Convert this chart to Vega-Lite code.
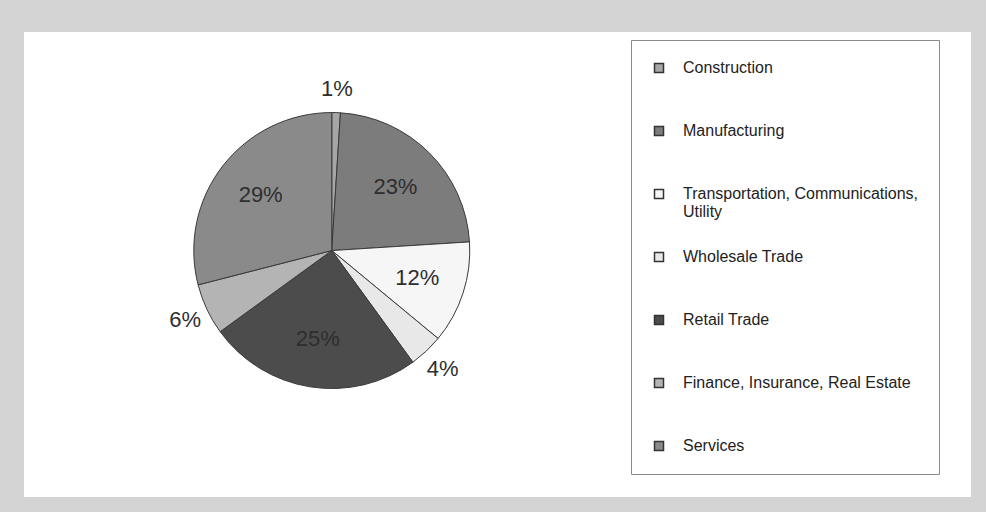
{
  "$schema": "https://vega.github.io/schema/vega-lite/v6.json",
  "width": 947,
  "height": 465,
  "autosize": {"type": "none"},
  "padding": {"left": 24, "top": 32, "right": 15, "bottom": 15},
  "background": "#d4d4d4",
  "view": {"fill": "#ffffff", "stroke": "#ffffff", "strokeWidth": 0},
  "config": {
    "font": "Liberation Sans",
    "legend": {
      "orient": "none",
      "legendX": 607,
      "legendY": 8,
      "padding": 20,
      "strokeColor": "#8a8a8a",
      "fillColor": "white",
      "symbolType": "square",
      "symbolSize": 81,
      "symbolStrokeColor": "#333333",
      "symbolStrokeWidth": 1.5,
      "labelFont": "Liberation Sans",
      "labelFontSize": 16,
      "labelColor": "#222222",
      "labelOffset": 16,
      "labelLimit": 400,
      "gridAlign": "all",
      "rowPadding": 29
    }
  },
  "data": {
    "values": [
      {"sector": "Construction", "share": 0.01, "rank": 1},
      {"sector": "Manufacturing", "share": 0.23, "rank": 2},
      {"sector": "Transportation, Communications, Utility", "share": 0.12, "rank": 3},
      {"sector": "Wholesale Trade", "share": 0.04, "rank": 4},
      {"sector": "Retail Trade", "share": 0.25, "rank": 5},
      {"sector": "Finance, Insurance, Real Estate", "share": 0.06, "rank": 6},
      {"sector": "Services", "share": 0.29, "rank": 7}
    ]
  },
  "encoding": {
    "theta": {"field": "share", "type": "quantitative", "stack": true},
    "order": {"field": "rank", "type": "quantitative"},
    "color": {
      "field": "sector",
      "type": "nominal",
      "scale": {
        "domain": [
          "Construction",
          "Manufacturing",
          "Transportation, Communications, Utility",
          "Wholesale Trade",
          "Retail Trade",
          "Finance, Insurance, Real Estate",
          "Services"
        ],
        "range": ["#a6a6a6", "#7c7c7c", "#f6f6f6", "#e8e8e8", "#4c4c4c", "#b4b4b4", "#8a8a8a"]
      },
      "legend": {
        "title": null,
        "labelExpr": "datum.label == 'Transportation, Communications, Utility' ? ['Transportation, Communications,', 'Utility'] : datum.label"
      }
    }
  },
  "layer": [
    {
      "mark": {
        "type": "arc",
        "outerRadius": 138,
        "x": {"expr": "width * 0.325"},
        "y": {"expr": "height * 0.47"},
        "stroke": "#3a3a3a",
        "strokeWidth": 1
      }
    },
    {
      "mark": {
        "type": "text",
        "radius": 90,
        "x": {"expr": "width * 0.325"},
        "y": {"expr": "height * 0.47"},
        "fontSize": 22,
        "font": "Liberation Sans"
      },
      "encoding": {
        "color": {"value": "#2e2e2e"},
        "text": {
          "condition": {"test": "datum.share >= 0.1", "field": "share", "type": "quantitative", "format": ".0%"},
          "value": ""
        }
      }
    },
    {
      "mark": {
        "type": "text",
        "radius": 162,
        "x": {"expr": "width * 0.325"},
        "y": {"expr": "height * 0.47"},
        "fontSize": 22,
        "font": "Liberation Sans"
      },
      "encoding": {
        "color": {"value": "#2e2e2e"},
        "text": {
          "condition": {"test": "datum.share < 0.1", "field": "share", "type": "quantitative", "format": ".0%"},
          "value": ""
        }
      }
    }
  ]
}
